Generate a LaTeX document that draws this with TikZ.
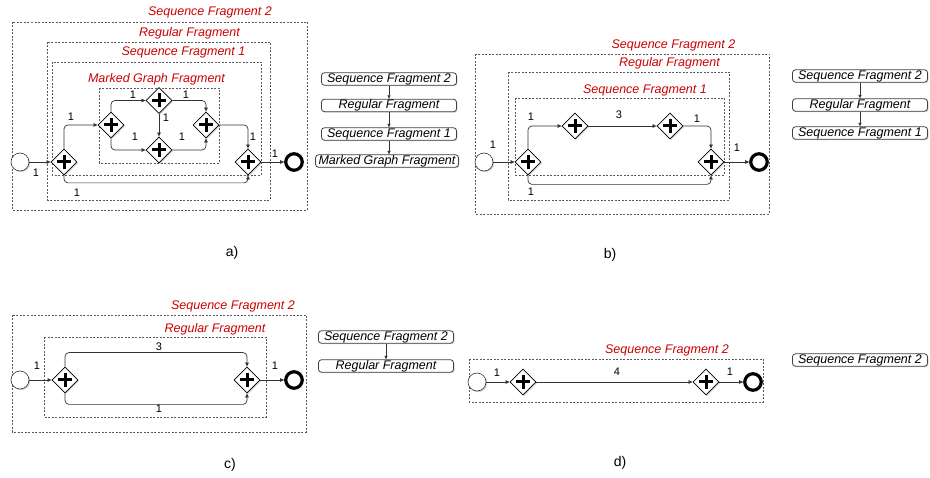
\documentclass[tikz,border=0pt]{standalone}
\usepackage{fontspec}
\setmainfont{Liberation Sans}
\usetikzlibrary{shapes.geometric,arrows.meta,shadows}
\tikzset{
 frag/.style={draw=black!65, dash pattern=on 2pt off 1.5pt, line width=0.6pt},
 fraglabel/.style={text=red!80!black, font=\fontsize{12.5}{14}\selectfont\itshape, inner sep=0pt},
 gw/.style={diamond, draw=black, line width=0.8pt, fill=white, minimum width=26pt, minimum height=26pt, inner sep=0pt,
   drop shadow={shadow xshift=1.2pt, shadow yshift=-1.2pt, opacity=0.35},
   path picture={\draw[line width=3pt] ([xshift=-7pt]path picture bounding box.center) -- ([xshift=7pt]path picture bounding box.center) ([yshift=-7pt]path picture bounding box.center) -- ([yshift=7pt]path picture bounding box.center);}},
 startev/.style={circle, draw=black!80, line width=0.6pt, fill=white, minimum size=18pt, inner sep=0pt,
   drop shadow={shadow xshift=1.2pt, shadow yshift=-1.2pt, opacity=0.35}},
 endev/.style={circle, draw=black, line width=3.2pt, fill=white, minimum size=16.5pt, inner sep=0pt},
 flow/.style={draw=black!80, line width=0.7pt, -{Triangle[length=4pt,width=3.5pt]}, rounded corners=4pt},
 num/.style={font=\fontsize{11}{13}\selectfont, inner sep=0pt},
 hbox/.style={draw=black!75, line width=0.8pt, rounded corners=3pt, fill=white, font=\fontsize{12.5}{14}\selectfont\itshape, minimum height=12.5pt, inner ysep=0.3pt, inner xsep=3pt, minimum width=135pt,
   drop shadow={shadow xshift=1pt, shadow yshift=-1pt, opacity=0.3}},
 harrow/.style={draw=black!80, line width=0.6pt, -{Triangle[length=3.5pt,width=3pt]}},
 panel/.style={font=\fontsize{14}{16}\selectfont, inner sep=0pt}
}
\begin{document}
\begin{tikzpicture}[x=1pt,y=-1pt]
\useasboundingbox[fill=white] (0,0) rectangle (930,478);

% ---------- panel a ----------
\draw[frag] (12,22) rectangle (307,210);
\draw[frag] (47,42) rectangle (270,200);
\draw[frag] (52,62) rectangle (261,175);
\draw[frag] (99,88) rectangle (219,163);
\node[fraglabel] (la1) at (210,12) {Sequence Fragment 2};
\node[fraglabel] (la2) at (189.5,33) {Regular Fragment};
\node[fraglabel] (la3) at (183.5,52) {Sequence Fragment 1};
\node[fraglabel] (la4) at (156.5,79) {Marked Graph Fragment};

\node[startev] (as) at (20,162) {};
\node[gw] (a1) at (64,162) {};
\node[gw] (a2) at (111,125) {};
\node[gw] (a3) at (159,100.5) {};
\node[gw] (a4) at (159,150) {};
\node[gw] (a5) at (206,125) {};
\node[gw] (a6) at (248,162) {};
\node[endev] (ae) at (294,162) {};

\draw[flow] (as) -- (a1);
\draw[flow] (a1.north) |- (a2.west);
\draw[flow] (a2.north) |- (a3.west);
\draw[flow] (a2.south) |- (a4.west);
\draw[flow] (a3.east) -| (a5.north);
\draw[flow] (a3.south) -- (a4.north);
\draw[flow] (a4.east) -| (a5.south);
\draw[flow] (a5.east) -| (a6.north);
\draw[flow] (a1.south) -- ++(0,7.5) -| (a6.south);
\draw[flow] (a6) -- (ae);

\node[num] (na1) at (36,173) {1};
\node[num] (na2) at (71,117) {1};
\node[num] (na3) at (133,95) {1};
\node[num] (na4) at (135,137) {1};
\node[num] (na5) at (186,95) {1};
\node[num] (na6) at (166,118) {1};
\node[num] (na7) at (182,137) {1};
\node[num] (na8) at (253,137) {1};
\node[num] (na9) at (77,193) {1};
\node[num] (na10) at (275,154) {1};

\node[hbox] (ha1) at (389,79) {Sequence Fragment 2};
\node[hbox] (ha2) at (389,105.5) {Regular Fragment};
\node[hbox] (ha3) at (389,134) {Sequence Fragment 1};
\node[hbox] (ha4) at (387,161) {Marked Graph Fragment};
\draw[harrow] (ha1.south) -- (ha2.north);
\draw[harrow] (ha2.south) -- (ha3.north);
\draw[harrow] (ha3.south) -- (ha3.south |- ha4.north);

\node[panel] (pa) at (232,253) {a)};

% ---------- panel b ----------
\draw[frag] (475,54) rectangle (769,214);
\draw[frag] (508,72) rectangle (729,200);
\draw[frag] (515,98) rectangle (724,175);
\node[fraglabel] (lb1) at (673.5,45.7) {Sequence Fragment 2};
\node[fraglabel] (lb2) at (669.5,63) {Regular Fragment};
\node[fraglabel] (lb3) at (645,90.7) {Sequence Fragment 1};

\node[startev] (bs) at (484,162) {};
\node[gw] (b1) at (528,162) {};
\node[gw] (b2) at (575,126) {};
\node[gw] (b3) at (670,126) {};
\node[gw] (b4) at (711,162) {};
\node[endev] (be) at (759,162) {};

\draw[flow] (bs) -- (b1);
\draw[flow] (b1.north) |- (b2.west);
\draw[flow] (b2) -- (b3);
\draw[flow] (b3.east) -| (b4.north);
\draw[flow] (b1.south) -- ++(0,9) -| (b4.south);
\draw[flow] (b4) -- (be);

\node[num] (nb1) at (493,145) {1};
\node[num] (nb2) at (531,117) {1};
\node[num] (nb3) at (619,115) {3};
\node[num] (nb4) at (697,119) {1};
\node[num] (nb5) at (531,192) {1};
\node[num] (nb6) at (737,148) {1};

\node[hbox] (hb1) at (860,76) {Sequence Fragment 2};
\node[hbox] (hb2) at (860,105) {Regular Fragment};
\node[hbox] (hb3) at (860,133) {Sequence Fragment 1};
\draw[harrow] (hb1.south) -- (hb2.north);
\draw[harrow] (hb2.south) -- (hb3.north);

\node[panel] (pb) at (610,255) {b)};

% ---------- panel c ----------
\draw[frag] (12,315) rectangle (306,432);
\draw[frag] (44,337) rectangle (266,417);
\node[fraglabel] (lc1) at (233,306.7) {Sequence Fragment 2};
\node[fraglabel] (lc2) at (215,329) {Regular Fragment};

\node[startev] (cs) at (20,380) {};
\node[gw] (c1) at (65,380) {};
\node[gw] (c2) at (247,380) {};
\node[endev] (ce) at (294,380) {};

\draw[flow] (cs) -- (c1);
\draw[flow] (c1.north) -- ++(0,-14) -| (c2.north);
\draw[flow] (c1.south) -- ++(0,11) -| (c2.south);
\draw[flow] (c2) -- (ce);

\node[num] (nc1) at (37,366) {1};
\node[num] (nc2) at (159,347) {3};
\node[num] (nc3) at (159,409) {1};
\node[num] (nc4) at (275,366) {1};

\node[hbox] (hc1) at (386,337) {Sequence Fragment 2};
\node[hbox] (hc2) at (386,366) {Regular Fragment};
\draw[harrow] (hc1.south) -- (hc2.north);

\node[panel] (pc) at (230,465) {c)};

% ---------- panel d ----------
\draw[frag] (469,359) rectangle (763,402);
\node[fraglabel] (ld1) at (667,350.7) {Sequence Fragment 2};

\node[startev] (ds) at (477,382) {};
\node[gw] (d1) at (523,382) {};
\node[gw] (d2) at (706,382) {};
\node[endev] (de) at (753,382) {};

\draw[flow] (ds) -- (d1);
\draw[flow] (d1) -- (d2);
\draw[flow] (d2) -- (de);

\node[num] (nd1) at (497,373) {1};
\node[num] (nd2) at (617,372) {4};
\node[num] (nd3) at (730,372) {1};

\node[hbox] (hd1) at (860,360) {Sequence Fragment 2};

\node[panel] (pd) at (620,463) {d)};
\end{tikzpicture}
\end{document}
